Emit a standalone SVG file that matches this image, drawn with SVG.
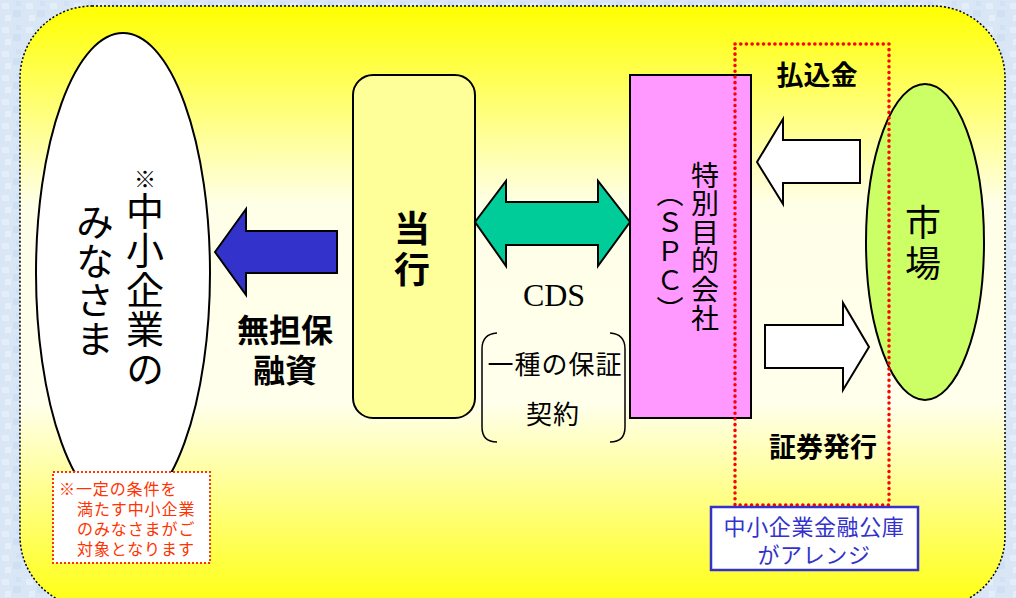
<svg xmlns="http://www.w3.org/2000/svg" width="1016" height="598" viewBox="0 0 1016 598">
<defs>
<linearGradient id="yel" x1="0" y1="0" x2="0" y2="1">
<stop offset="0" stop-color="#ffff00"/>
<stop offset="0.33" stop-color="#ffffe8"/>
<stop offset="0.66" stop-color="#ffffec"/>
<stop offset="1" stop-color="#ffff10"/>
</linearGradient>
<pattern id="tex" width="24" height="24" patternUnits="userSpaceOnUse">
<rect width="24" height="24" fill="#d8e6f6"/>
<rect x="2" y="3" width="7" height="6" fill="#e4eef9"/>
<rect x="13" y="10" width="8" height="7" fill="#cfe0f3"/>
<rect x="5" y="15" width="6" height="6" fill="#e6eff9"/>
<rect x="16" y="1" width="5" height="5" fill="#d2e2f4"/>
</pattern>
</defs>
<style>
.jp{font-family:"Noto Sans CJK JP","Noto Sans CJK SC",sans-serif;}
.b{font-weight:bold;}
.vt{writing-mode:vertical-rl;}
.box{stroke:#000;stroke-width:2;}
.arrow{stroke:#000;stroke-width:2;stroke-linejoin:miter;}
.nt{font-size:16px;fill:#ff3300;letter-spacing:0.9px;}
</style>
<rect width="1016" height="598" fill="url(#tex)"/>
<rect id="panel" x="20" y="6" width="985" height="602" rx="72" ry="72" fill="url(#yel)" stroke="#000" stroke-width="1.5" stroke-dasharray="2 2"/>

<g id="sme">
<ellipse cx="123" cy="273" rx="87" ry="240" fill="#fff" class="box"/>
<text class="jp vt" x="145" y="168" font-size="38" letter-spacing="1.5"><tspan font-size="22">※</tspan>中小企業の</text>
<text class="jp vt" x="95" y="203" font-size="38" letter-spacing="1">みなさま</text>
</g>

<g id="note">
<rect x="53" y="472" width="157" height="91" fill="#fff" stroke="#ff3300" stroke-width="2" stroke-dasharray="2 2"/>
<text class="jp nt" x="59" y="495">※一定の条件を</text>
<text class="jp nt" x="77" y="515">満たす中小企業</text>
<text class="jp nt" x="77" y="535">のみなさまがご</text>
<text class="jp nt" x="77" y="555">対象となります</text>
</g>

<g id="bank">
<rect x="353" y="75" width="122" height="343" rx="20" ry="20" fill="#ffff99" class="box"/>
<text class="jp b vt" x="412" y="210" font-size="36" letter-spacing="5">当行</text>
</g>

<g id="spc">
<rect x="630" y="75" width="121" height="343" fill="#ff99ff" class="box"/>
<text class="jp vt" x="705" y="161" font-size="28" letter-spacing="0.6">特別目的会社</text>
<text class="jp vt" x="670" y="180" font-size="27" letter-spacing="2">（ＳＰＣ）</text>
</g>

<g id="market">
<ellipse cx="925" cy="242" rx="59" ry="158" fill="#ccff66" class="box"/>
<text class="jp vt" x="923" y="204" font-size="36" letter-spacing="5">市場</text>
</g>

<g id="connectors">
<path class="arrow" fill="#3333cc" d="M215,252 L246,209 L246,231 L337,231 L337,273 L246,273 L246,295 Z"/>
<path class="arrow" fill="#00cc99" d="M475,222 L506,181 L506,202 L598,202 L598,181 L630,222 L598,266 L598,245 L506,245 L506,266 Z"/>
<path class="arrow" fill="#fff" d="M757,162 L783,119 L783,140 L860,140 L860,183 L783,183 L783,204 Z"/>
<path class="arrow" fill="#fff" d="M765,325 L843,325 L843,303 L869,347 L843,390 L843,368 L765,368 Z"/>
</g>

<g id="labels">
<text class="jp b" font-size="32" text-anchor="middle"><tspan x="285" y="342">無担保</tspan><tspan x="285" y="382">融資</tspan></text>
<text x="554" y="306" font-family="Liberation Serif, serif" font-size="32" text-anchor="middle">CDS</text>
<path d="M497,333 Q482,334 482,349 L482,427 Q482,442 497,442" fill="none" stroke="#000" stroke-width="1.5"/>
<path d="M610,333 Q625,334 625,349 L625,427 Q625,442 610,442" fill="none" stroke="#000" stroke-width="1.5"/>
<text class="jp" font-size="26" text-anchor="middle" letter-spacing="1"><tspan x="555" y="374">一種の保証</tspan><tspan x="553" y="424">契約</tspan></text>
<text class="jp b" x="817" y="85" font-size="27" text-anchor="middle">払込金</text>
<text class="jp b" x="823" y="457" font-size="27" text-anchor="middle">証券発行</text>
</g>

<g id="arrange">
<rect x="735" y="44" width="154" height="461" fill="none" stroke="#ff0000" stroke-width="3.5" stroke-dasharray="0.1 5.6" stroke-linecap="round"/>
<rect x="711" y="507" width="207" height="63" fill="#fff" stroke="#3333cc" stroke-width="2.5"/>
<text class="jp" font-size="22" fill="#3333cc" text-anchor="middle" letter-spacing="0.6"><tspan x="814" y="535">中小企業金融公庫</tspan><tspan x="814" y="563">がアレンジ</tspan></text>
</g>
</svg>
